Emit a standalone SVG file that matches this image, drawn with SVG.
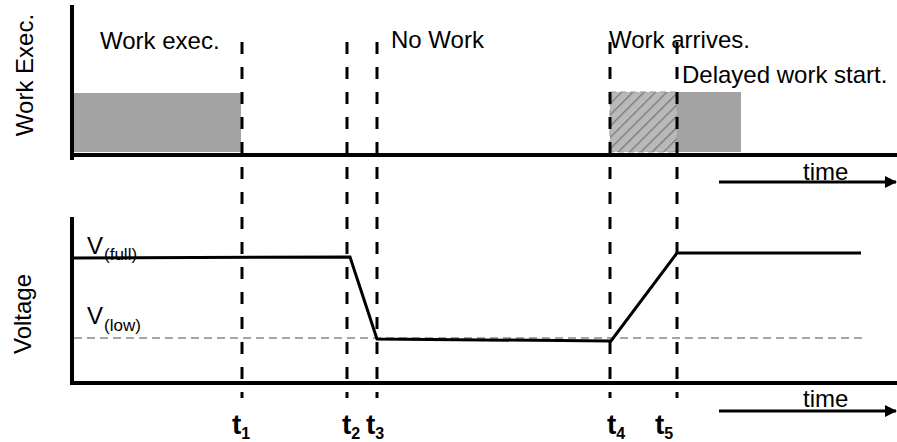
<svg xmlns="http://www.w3.org/2000/svg" width="897" height="442" viewBox="0 0 897 442">
  <style>
    text { font-family: "Liberation Sans", Arial, sans-serif; fill: #000; }
    .lbl { font-size: 24px; }
    .sub { font-size: 17px; }
    .tk { font-size: 28px; font-weight: bold; }
    .tks { font-size: 16px; font-weight: bold; }
    .axis { stroke: #000; stroke-width: 4; fill: none; }
    .mark { stroke: #000; stroke-width: 3; stroke-dasharray: 12 13; fill: none; }
    .curve { stroke: #000; stroke-width: 3; fill: none; stroke-linejoin: miter; }
    .ref { stroke: #888; stroke-width: 1.5; stroke-dasharray: 8 5; fill: none; }
    .arrow { stroke: #000; stroke-width: 3; fill: none; }
  </style>
  <defs>
    <marker id="head" viewBox="0 0 12 12" refX="11" refY="6" markerWidth="12" markerHeight="12" markerUnits="userSpaceOnUse" orient="auto">
      <path d="M0,0 L12,6 L0,12 Z" fill="#000"/>
    </marker>
    <pattern id="hatch" patternUnits="userSpaceOnUse" width="8" height="8" patternTransform="rotate(45)">
      <rect width="8" height="8" fill="#b9b9b9"/>
      <line x1="0" y1="0" x2="0" y2="8" stroke="#777" stroke-width="2.5"/>
    </pattern>
  </defs>

  <!-- upper panel: work execution -->
  <g id="work-panel">
    <rect x="74" y="93" width="167" height="59" fill="#a3a3a3"/>
    <rect id="waiting-work" x="610" y="92" width="67" height="60" fill="url(#hatch)" stroke="#999" stroke-width="1" stroke-dasharray="6 4"/>
    <rect x="677" y="92" width="64" height="60" fill="#a3a3a3"/>
    <line class="axis" x1="72" y1="5" x2="72" y2="160"/>
    <line class="axis" x1="70" y1="155" x2="897" y2="155"/>
    <text class="lbl" transform="translate(33,75) rotate(-90)" text-anchor="middle">Work Exec.</text>
    <text class="lbl" x="100" y="49">Work exec.</text>
    <text class="lbl" x="391" y="48">No Work</text>
    <text class="lbl" x="609" y="48">Work arrives.</text>
    <text class="lbl" x="682" y="83">Delayed work start.</text>
  </g>

  <!-- lower panel: supply voltage -->
  <g id="voltage-panel">
    <line class="ref" x1="74" y1="338" x2="863" y2="338"/>
    <line class="axis" x1="72" y1="217" x2="72" y2="385"/>
    <line class="axis" x1="70" y1="383" x2="897" y2="383"/>
    <polyline class="curve" points="74,258 350,257 377,339 611,341 677,253 861,253"/>
    <text class="lbl" transform="translate(31,314) rotate(-90)" text-anchor="middle">Voltage</text>
    <text class="lbl" x="87" y="254">V<tspan class="sub" dx="1" dy="6">(full)</tspan></text>
    <text class="lbl" x="87" y="324">V<tspan class="sub" dx="1" dy="7">(low)</tspan></text>
  </g>

  <!-- time instants -->
  <g id="time-marks">
    <line class="mark" x1="242" y1="42" x2="242" y2="398"/>
    <line class="mark" x1="347" y1="42" x2="347" y2="398"/>
    <line class="mark" x1="377" y1="42" x2="377" y2="398"/>
    <line class="mark" x1="610" y1="42" x2="610" y2="398"/>
    <line class="mark" x1="677" y1="42" x2="677" y2="398"/>
    <text class="tk" x="232" y="434">t<tspan class="tks" dy="5">1</tspan></text>
    <text class="tk" x="342" y="434">t<tspan class="tks" dy="5">2</tspan></text>
    <text class="tk" x="366" y="434">t<tspan class="tks" dy="5">3</tspan></text>
    <text class="tk" x="607" y="434">t<tspan class="tks" dy="5">4</tspan></text>
    <text class="tk" x="655" y="434">t<tspan class="tks" dy="5">5</tspan></text>
  </g>

  <!-- time direction arrows -->
  <g id="connectors">
    <line class="arrow" x1="719" y1="182" x2="896" y2="182" marker-end="url(#head)"/>
    <line class="arrow" x1="719" y1="411" x2="896" y2="411" marker-end="url(#head)"/>
    <text class="lbl" x="803" y="180">time</text>
    <text class="lbl" x="803" y="407">time</text>
  </g>
</svg>
